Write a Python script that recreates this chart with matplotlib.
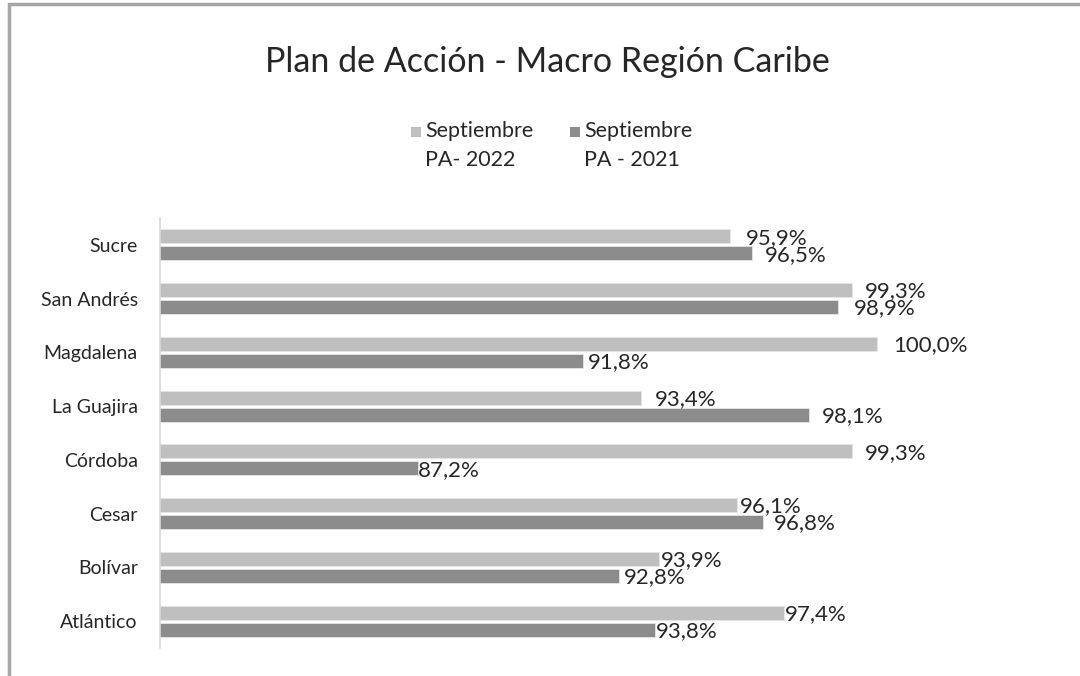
import matplotlib
matplotlib.use("agg")
import matplotlib.pyplot as plt
from matplotlib.patches import Rectangle
import numpy as np

# data, bottom to top as drawn
regions = ['Atlántico', 'Bolívar', 'Cesar', 'Córdoba', 'La Guajira', 'Magdalena', 'San Andrés', 'Sucre']
pa_2022 = [97.4, 93.9, 96.1, 99.3, 93.4, 100.0, 99.3, 95.9]
pa_2021 = [93.8, 92.8, 96.8, 87.2, 98.1, 91.8, 98.9, 96.5]
series_labels = ['Septiembre\nPA- 2022', 'Septiembre\nPA - 2021']
title = 'Plan de Acción - Macro Región Caribe'

# hand-placed label nudges (pixels right of bar end), as in the original
label_dx_2022 = [1, 2, 2, 13, 14, 16, 13, 16]
label_dx_2021 = [1, 5, 11, 0, 13, 5, 16, 13]

light = '#BFBFBF'
dark = '#8C8C8C'
text_color = '#262626'

plt.rcParams['font.family'] = ['Lato', 'DejaVu Sans']

fig = plt.figure(figsize=(10.8, 6.76), dpi=100)
ax = fig.add_axes([160 / 1080, 1 - 648 / 676, (985 - 160) / 1080, (648 - 218) / 676])

y = np.arange(len(regions))
h = 0.26
off = 0.158
ax.barh(y + off, pa_2022, height=h, color=light, edgecolor='#E6E6E6', linewidth=0.6)
ax.barh(y - off, pa_2021, height=h, color=dark, edgecolor='#E6E6E6', linewidth=0.6)

def fmt(v):
    return '{:.1f}%'.format(v).replace('.', ',')

px = 0.72  # points per pixel at 100 dpi
for yi, v, dx in zip(y, pa_2022, label_dx_2022):
    ax.annotate(fmt(v), (v, yi + off), xytext=(dx * px, -1), textcoords='offset points',
                va='center', ha='left', fontsize=16, color=text_color)
for yi, v, dx in zip(y, pa_2021, label_dx_2021):
    ax.annotate(fmt(v), (v, yi - off), xytext=(dx * px, -1), textcoords='offset points',
                va='center', ha='left', fontsize=16, color=text_color)

ax.set_xlim(80, 103)
ax.set_ylim(-0.5, len(regions) - 0.5)
ax.set_yticks(y)
ax.set_yticklabels(regions, fontsize=14, color=text_color)
ax.tick_params(axis='y', length=0, pad=16)
ax.set_xticks([])
for s in ['top', 'right', 'bottom']:
    ax.spines[s].set_visible(False)
ax.spines['left'].set_color('#D9D9D9')
ax.spines['left'].set_linewidth(1.2)

fig.text(547 / 1080, 1 - 62 / 676, title, ha='center', va='center', fontsize=24.5, color=text_color)

# legend: square next to the first line of each two-line label
for (sx, color, label) in [(411, light, series_labels[0]), (570, dark, series_labels[1])]:
    fig.patches.append(Rectangle((sx / 1080, 1 - 137 / 676), 10 / 1080, 10 / 676,
                                 transform=fig.transFigure, facecolor=color, edgecolor='none'))
    for i, line in enumerate(label.split('\n')):
        fig.text((sx + 14) / 1080, 1 - (131 + 29 * i) / 676, line, ha='left', va='center',
                 fontsize=15.5, color=text_color)

# outer chart border
fig.patches.append(Rectangle((9 / 1080, -0.2), 1.2, 1 - 4 / 676 + 0.2, transform=fig.transFigure,
                             fill=False, edgecolor='#A6A6A6', linewidth=2.5, clip_on=False))

fig.savefig('out.png', dpi=100)
